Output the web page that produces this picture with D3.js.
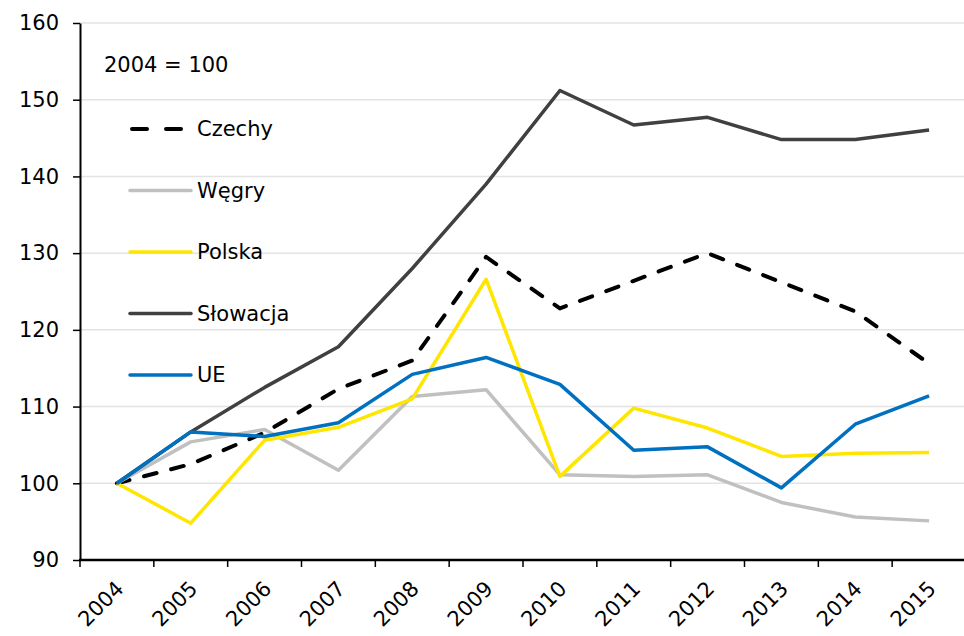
<!DOCTYPE html>
<html>
<head>
<meta charset="utf-8">
<script src="https://cdn.jsdelivr.net/npm/d3@7"></script>
<style>
  html, body { margin: 0; padding: 0; background: #fff; }
  svg { display: block; font-family: "DejaVu Sans", Verdana, sans-serif; }
</style>
</head>
<body>
<div id="chart"></div>
<script>
// Data (2004 = 100)
const years = ["2004","2005","2006","2007","2008","2009","2010","2011","2012","2013","2014","2015"];
const czechy   = [100, 102.5, 106.6, 112.3, 116.0, 129.5, 122.8, 126.4, 130.0, 126.2, 122.4, 115.6];
const wegry    = [100, 105.4, 107.0, 101.7, 111.3, 112.2, 101.1, 100.9, 101.1, 97.5, 95.6, 95.1];
const polska   = [100, 94.8, 105.6, 107.3, 111.0, 126.6, 100.9, 109.8, 107.2, 103.5, 103.9, 104.0];
const slowacja = [100, 106.7, 112.5, 117.8, 128.0, 139.0, 151.2, 146.7, 147.7, 144.8, 144.8, 146.05];
const ue       = [100, 106.7, 106.1, 107.9, 114.2, 116.4, 112.9, 104.3, 104.75, 99.4, 107.7, 111.4];
const yTicks = [90, 100, 110, 120, 130, 140, 150, 160];

const series = [
  { name: "Czechy",   values: czechy,   color: "#000000", width: 4, dash: "13,15" },
  { name: "Węgry",    values: wegry,    color: "#c0c0c0", width: 3.5 },
  { name: "Polska",   values: polska,   color: "#ffe600", width: 3.5 },
  { name: "Słowacja", values: slowacja, color: "#404040", width: 3.5 },
  { name: "UE",       values: ue,       color: "#0070c0", width: 3.5 }
];

const width = 964, height = 636;
const margin = { top: 23, right: -2, bottom: 76, left: 80 };
const fontSize = 21;

const svg = d3.select("#chart").append("svg")
  .attr("width", width)
  .attr("height", height);

const x = d3.scaleBand()
  .domain(years)
  .range([margin.left, width - margin.right]);

const y = d3.scaleLinear()
  .domain([90, 160])
  .range([height - margin.bottom, margin.top]);

// gridlines
svg.append("g")
  .selectAll("line")
  .data(yTicks.filter(d => d !== 90))
  .enter()
  .append("line")
  .attr("x1", margin.left)
  .attr("x2", width)
  .attr("y1", d => y(d))
  .attr("y2", d => y(d))
  .attr("stroke", "#e3e3e3")
  .attr("stroke-width", 1.5);

// y axis
const yAxis = svg.append("g")
  .attr("transform", `translate(${margin.left},0)`)
  .call(d3.axisLeft(y).tickValues(yTicks).tickSize(7).tickPadding(14).tickSizeOuter(0));
yAxis.select(".domain").attr("stroke", "#000").attr("stroke-width", 2);
yAxis.selectAll(".tick line").attr("stroke", "#000").attr("stroke-width", 1.5);
yAxis.selectAll(".tick text")
  .attr("font-size", fontSize)
  .attr("fill", "#000")
  .attr("font-family", "DejaVu Sans, sans-serif");

// x axis: tick marks on band boundaries
const xAxisG = svg.append("g")
  .attr("transform", `translate(0,${y(90)})`);
xAxisG.append("line")
  .attr("x1", margin.left - 1)
  .attr("x2", width)
  .attr("stroke", "#000")
  .attr("stroke-width", 2.5);
xAxisG.selectAll(".xtick")
  .data(years)
  .enter()
  .append("line")
  .attr("x1", d => x(d))
  .attr("x2", d => x(d))
  .attr("y1", 0)
  .attr("y2", 7)
  .attr("stroke", "#000")
  .attr("stroke-width", 1.5);
xAxisG.selectAll(".xlabel")
  .data(years)
  .enter()
  .append("text")
  .attr("text-anchor", "end")
  .attr("font-size", fontSize)
  .attr("fill", "#000")
  .attr("transform", d => `translate(${x(d) + x.bandwidth() / 2 + 8},${30}) rotate(-45)`)
  .text(d => d);

// lines
const line = d3.line()
  .x((d, i) => x(years[i]) + x.bandwidth() / 2)
  .y(d => y(d));

svg.append("g")
  .selectAll("path")
  .data(series)
  .enter()
  .append("path")
  .attr("d", d => line(d.values))
  .attr("fill", "none")
  .attr("stroke", d => d.color)
  .attr("stroke-width", d => d.width)
  .attr("stroke-dasharray", d => d.dash || null)
  .attr("stroke-linecap", d => d.dash ? "round" : "butt")
  .attr("stroke-linejoin", "round");

// note
svg.append("text")
  .attr("x", 104)
  .attr("y", 72)
  .attr("font-size", fontSize)
  .attr("fill", "#000")
  .text("2004 = 100");

// legend
const legend = svg.append("g")
  .attr("transform", "translate(130,129)");
const rows = legend.selectAll("g")
  .data(series)
  .enter()
  .append("g")
  .attr("transform", (d, i) => `translate(0,${i * 61.5})`);
rows.append("line")
  .attr("x1", d => d.dash ? 2 : 0)
  .attr("x2", d => d.dash ? 58 : 61)
  .attr("stroke", d => d.color)
  .attr("stroke-width", d => d.width)
  .attr("stroke-dasharray", d => d.dash ? "15,19" : null)
  .attr("stroke-linecap", "round");
rows.append("text")
  .attr("x", 67)
  .attr("dy", "0.35em")
  .attr("font-size", fontSize)
  .attr("fill", "#000")
  .text(d => d.name);
</script>
</body>
</html>
